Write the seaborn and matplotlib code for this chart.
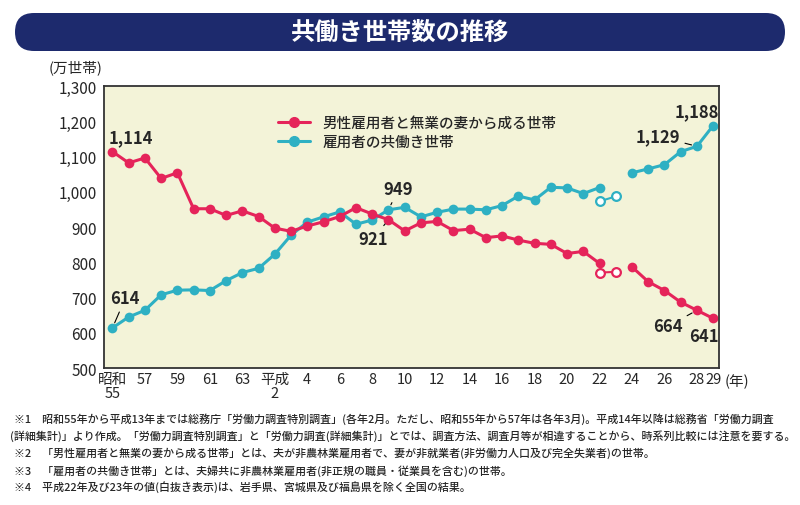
import numpy as np
import pandas as pd
import matplotlib.pyplot as plt
import seaborn as sns
from matplotlib.patches import FancyBboxPatch
from matplotlib.lines import Line2D
from matplotlib.transforms import IdentityTransform

# Data (万世帯), 1980 (昭和55) - 2017 (平成29); 2011 only exists as open value
years = list(range(1980, 2018))
single_income = [1114, 1082, 1096, 1038, 1054, 952, 952, 933, 946, 930,
                 897, 888, 903, 915, 930, 955, 937, 921, 889, 912,
                 916, 890, 894, 870, 875, 863, 854, 851, 825, 831,
                 797, np.nan, 787, 745, 720, 687, 664, 641]
dual_income = [614, 645, 664, 708, 721, 722, 720, 748, 771, 783,
               823, 877, 914, 929, 943, 908, 920, 949, 956, 929,
               942, 951, 951, 949, 961, 988, 977, 1013, 1011, 995,
               1012, np.nan, 1054, 1065, 1077, 1114, 1129, 1188]

# 平成22・23年 (excluding Iwate, Miyagi, Fukushima) - open markers
open_years = [2010, 2011]
single_open = [771, 773]
dual_open = [973, 987]

tick_years = [1980, 1982, 1984, 1986, 1988, 1990, 1992, 1994, 1996, 1998,
              2000, 2002, 2004, 2006, 2008, 2010, 2012, 2014, 2016, 2017]
tick_labels = ['昭和\n55', '57', '59', '61', '63', '平成\n2', '4', '6', '8', '10',
               '12', '14', '16', '18', '20', '22', '24', '26', '28', '29']

series_names = ['男性雇用者と無業の妻から成る世帯', '雇用者の共働き世帯']

notes = [
    '※1　昭和55年から平成13年までは総務庁「労働力調査特別調査」(各年2月。ただし、昭和55年から57年は各年3月)。平成14年以降は総務省「労働力調査',
    '(詳細集計)」より作成。「労働力調査特別調査」と「労働力調査(詳細集計)」とでは、調査方法、調査月等が相違することから、時系列比較には注意を要する。',
    '※2　「男性雇用者と無業の妻から成る世帯」とは、夫が非農林業雇用者で、妻が非就業者(非労働力人口及び完全失業者)の世帯。',
    '※3　「雇用者の共働き世帯」とは、夫婦共に非農林業雇用者(非正規の職員・従業員を含む)の世帯。',
    '※4　平成22年及び23年の値(白抜き表示)は、岩手県、宮城県及び福島県を除く全国の結果。',
]

PINK = '#e5245a'
TEAL = '#2eb0c3'

sns.set_theme(style="white")
plt.rcParams['font.family'] = ['Noto Sans CJK JP', 'DejaVu Sans']

df = pd.DataFrame({'year': years, 'single': single_income, 'dual': dual_income})

fig = plt.figure(figsize=(8, 5.06), dpi=100)
ax = fig.add_axes([0.130, 0.2705, 0.769, 0.5575])
ax.set_facecolor('#f3f3d8')

# filled series, drawn in two pieces around the 2011 gap
for col, color in [('dual', TEAL), ('single', PINK)]:
    for start, end in [(1980, 2010), (2012, 2017)]:
        seg = df[(df['year'] >= start) & (df['year'] <= end)]
        sns.lineplot(data=seg, x='year', y=col, color=color, linewidth=2.2,
                     marker='o', markersize=7, markeredgewidth=0, ax=ax)

# open markers for 平成22・23年
for vals, color in [(dual_open, TEAL), (single_open, PINK)]:
    sns.lineplot(x=open_years, y=vals, color=color, linewidth=1.5,
                 marker='o', markersize=6.3, markerfacecolor='white',
                 markeredgecolor=color, markeredgewidth=1.6, ax=ax)

ax.set_xlim(1979.48, 2017.37)
ax.set_ylim(500, 1300)
ax.set_yticks(range(500, 1301, 100))
ax.set_yticklabels([f'{v:,}' for v in range(500, 1301, 100)])
ax.set_xticks(tick_years)
ax.set_xticklabels(tick_labels, linespacing=0.95)
ax.tick_params(axis='y', length=0, labelsize=11, pad=5)
ax.tick_params(axis='x', length=0, labelsize=10.5, pad=3)
ax.set_xlabel('')
ax.set_ylabel('')
for s in ax.spines.values():
    s.set_color('#333333')
    s.set_linewidth(1.3)

# value labels
def label(year, value, dx, dy, leader=False):
    arrow = dict(arrowstyle='-', color='black', lw=0.8, shrinkA=1, shrinkB=4) if leader else None
    ax.annotate(f'{value:,}', xy=(year, value), xytext=(dx, dy), textcoords='offset points',
                ha='center', va='center', fontsize=12, fontweight='bold', arrowprops=arrow)

label(1980, single_income[0], 13, 10.6)
label(1980, dual_income[0], 9.2, 21.2, leader=True)
label(1997, dual_income[17], 7.2, 14.9, leader=True)
label(1997, single_income[17], -11, -13.9, leader=True)
label(2016, dual_income[36], -28, 7.2, leader=True)
label(2017, dual_income[37], -12, 10.4)
label(2016, single_income[36], -21, -11.5, leader=True)
label(2017, single_income[37], -6.5, -12.7)

handles = [Line2D([0], [0], color=PINK, lw=2.2, marker='o', markersize=7),
           Line2D([0], [0], color=TEAL, lw=2.2, marker='o', markersize=7)]
ax.legend(handles, series_names, loc='upper left', bbox_to_anchor=(0.262, 0.94),
          frameon=False, handlelength=2.2, labelspacing=0.35,
          prop={'weight': 'medium', 'size': 10.5})

# title banner
banner = FancyBboxPatch((15, 454), 770, 38, boxstyle='round,pad=0,rounding_size=19',
                        transform=IdentityTransform(), facecolor='#1d2a6d', edgecolor='none')
fig.add_artist(banner)
fig.text(0.5, 1 - 33 / 506, '共働き世帯数の推移', color='white', fontsize=17.5,
         fontweight='bold', ha='center', va='center')

fig.text(76 / 800, 1 - 68 / 506, '(万世帯)', ha='center', va='center', fontsize=10.5)
fig.text(737 / 800, 1 - 382 / 506, '(年)', ha='center', va='center', fontsize=10.5)

for i, (note, y) in enumerate(zip(notes, [419, 436, 453, 471, 487])):
    x = 10 if i == 1 else 14
    fig.text(x / 800, 1 - y / 506, note, ha='left', va='center', fontsize=7.9,
             fontweight='medium')

fig.savefig('out.png', dpi=100)
